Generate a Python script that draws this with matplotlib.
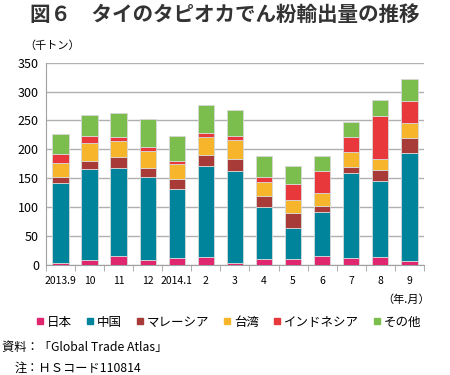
import matplotlib
matplotlib.use('Agg')
import matplotlib.pyplot as plt
from matplotlib.lines import Line2D
import numpy as np

plt.rcParams['font.family'] = ['Noto Sans CJK JP', 'DejaVu Sans']

# data (thousand tons)
months = ['2013.9', '10', '11', '12', '2014.1', '2', '3', '4', '5', '6', '7', '8', '9']
japan = [4, 8, 16, 8, 13, 14, 4, 10, 10, 15, 13, 14, 7]
china = [138, 158, 152, 145, 118, 158, 158, 91, 55, 77, 146, 131, 186]
malaysia = [10, 14, 19, 15, 18, 18, 22, 19, 25, 11, 11, 20, 26]
taiwan = [24, 31, 27, 30, 25, 31, 32, 23, 23, 21, 25, 19, 27]
indonesia = [16, 13, 8, 7, 6, 7, 8, 10, 27, 38, 26, 74, 37]
other = [34, 36, 41, 47, 44, 48, 44, 35, 31, 27, 27, 27, 38]

series = [
    ('日本', japan, '#E0266F'),
    ('中国', china, '#00849B'),
    ('マレーシア', malaysia, '#A83B38'),
    ('台湾', taiwan, '#F7B52C'),
    ('インドネシア', indonesia, '#E8383B'),
    ('その他', other, '#7BBE4E'),
]

fig = plt.figure(figsize=(4.5, 3.75), dpi=100)
ax = fig.add_axes([0.102, 0.293, 0.840, 0.540])

x = np.arange(len(months))
bottom = np.zeros(len(months))
for name, vals, col in series:
    ax.bar(x, vals, 0.56, bottom=bottom, color=col, edgecolor='#d8d8d8',
           linewidth=0.6, zorder=3)
    bottom += np.array(vals)

ax.set_xlim(-0.5, len(months) - 0.5)
ax.set_ylim(0, 350)
ax.set_yticks(range(0, 351, 50))
ax.grid(axis='y', color='#b0b0b0', linewidth=1.0, zorder=0)
for s in ['top', 'right']:
    ax.spines[s].set_visible(False)
ax.spines['left'].set_color('#a0a0a0')
ax.spines['bottom'].set_color('#a0a0a0')
ax.tick_params(axis='y', length=0, labelsize=9, pad=5)
ax.set_xticks(x)
ax.set_xticklabels(months, fontsize=7.5)
ax.tick_params(axis='x', length=0, pad=8)
ax.set_xticks(np.arange(-0.5, len(months), 1), minor=True)
ax.tick_params(axis='x', which='minor', length=4, color='#a0a0a0', direction='out')

fig.text(0.5, 0.962, '図６　タイのタピオカでん粉輸出量の推移', ha='center', va='center',
         fontsize=14.8, fontweight='bold', color='#333333')
fig.text(0.055, 0.878, '（千トン）', ha='left', va='center', fontsize=8)
fig.text(0.955, 0.20, '（年.月）', ha='right', va='center', fontsize=8)

handles = [Line2D([], [], marker='s', linestyle='none', markersize=5,
                  markerfacecolor=c, markeredgecolor=c) for _, _, c in series]
fig.legend(handles, [n for n, _, _ in series], loc='center', ncol=6,
           bbox_to_anchor=(0.508, 0.141), frameon=False, fontsize=9,
           handlelength=0.6, handletextpad=0.25, columnspacing=1.15)

fig.text(0.005, 0.072, '資料：「Global Trade Atlas」', ha='left', va='center', fontsize=8.8)
fig.text(0.033, 0.018, '注：ＨＳコード110814', ha='left', va='center', fontsize=8.8)

fig.savefig('out.png', dpi=100)
